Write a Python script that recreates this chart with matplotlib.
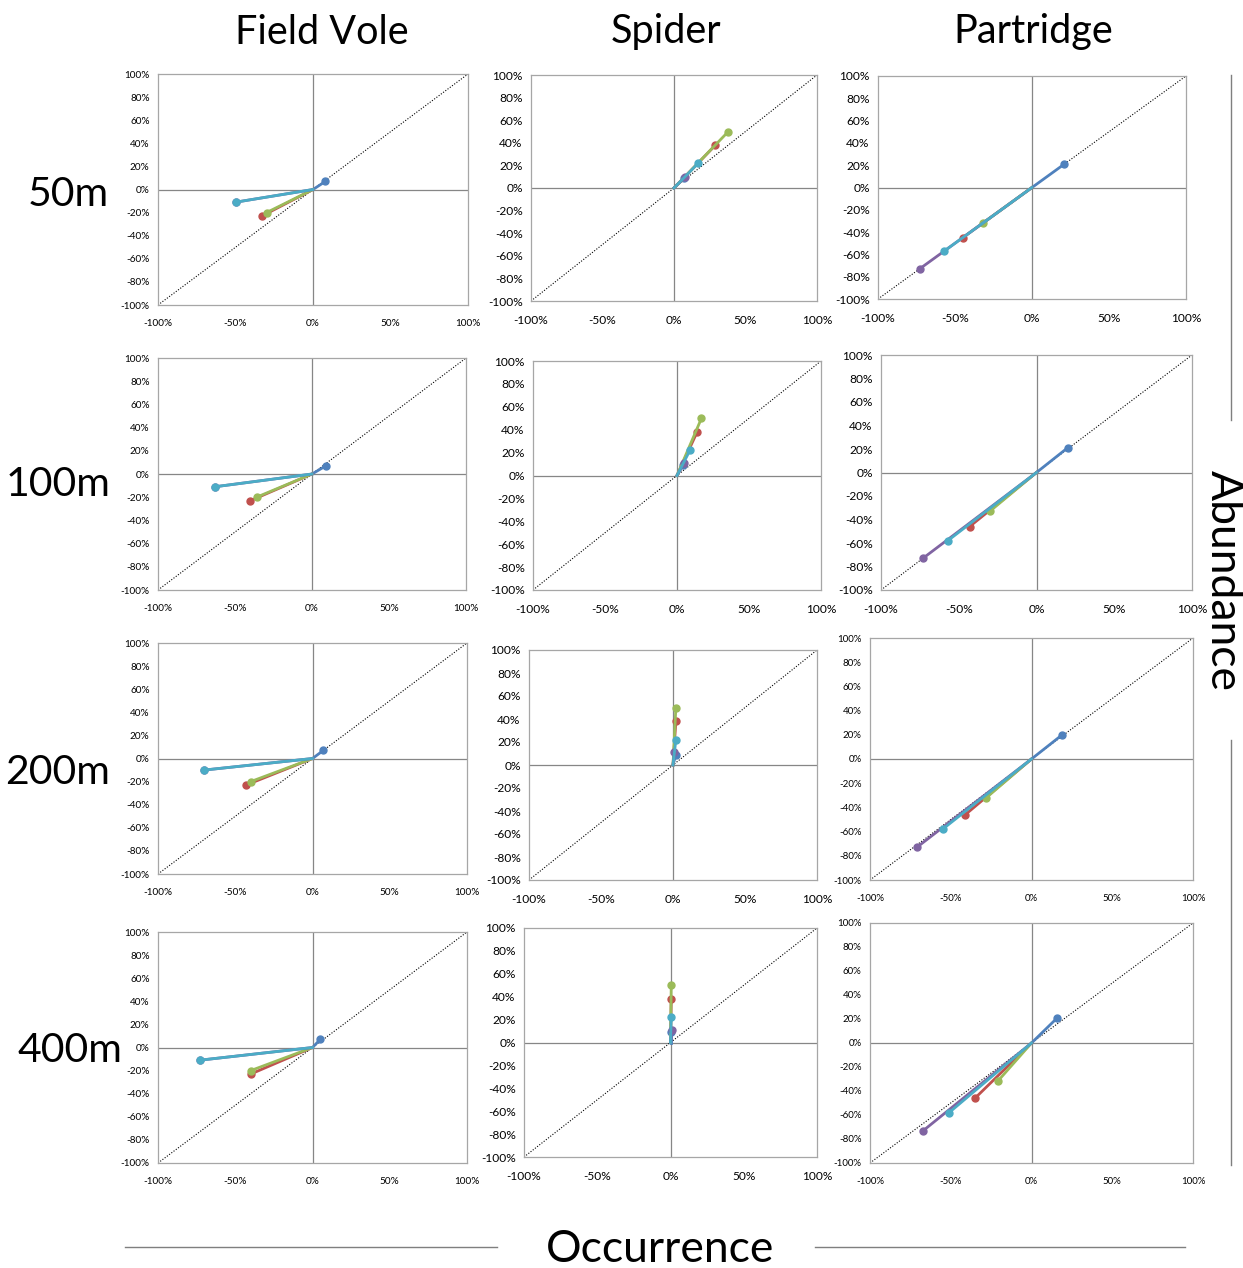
import matplotlib
matplotlib.use("Agg")
import matplotlib.pyplot as plt
from matplotlib.ticker import FuncFormatter

plt.rcParams['font.family'] = ['Lato', 'DejaVu Sans']

species = ["Field Vole", "Spider", "Partridge"]
distances = ["50m", "100m", "200m", "400m"]
series_names = ["blue", "red", "green", "purple", "teal"]
colors = ["#4F81BD", "#C0504D", "#9BBB59", "#8064A2", "#4BACC6"]

# end points (occurrence %, abundance %) for each series, every line starts at 0,0
# order: blue, red, green, purple, teal
vole_occ = [[8, -33, -30, -50, -50], [9, -40, -36, -63, -63], [7, -43, -40, -70, -70], [5, -40, -40, -73, -73]]
vole_abu = [[7, -23, -20, -11, -11], [7, -23, -20, -11, -11], [7, -23, -20, -10, -10], [7, -23, -20, -11, -11]]

spider_occ = [[7, 29, 38, 8, 17], [4, 14, 17, 5, 9], [2, 2, 2, 1, 2], [0, 0.5, 0.5, 1, 0.5]]
spider_abu = [[9, 38, 50, 10, 22], [9, 38, 50, 11, 22], [9, 38, 50, 11, 22], [9, 38, 50, 11, 22]]

partridge_occ = [[21, -45, -32, -73, -57], [20, -43, -30, -73, -57], [19, -41, -28, -71, -55], [16, -35, -21, -67, -51]]
partridge_abu = [[21, -45, -32, -73, -57], [21, -46, -33, -73, -58], [20, -46, -32, -73, -58], [21, -46, -32, -73, -58]]

occ_data = [vole_occ, spider_occ, partridge_occ]
abu_data = [vole_abu, spider_abu, partridge_abu]

W, H = 1243, 1268
fig = plt.figure(figsize=(W / 100, H / 100), dpi=100)

# plot areas in pixels: left, top, right, bottom
boxes = [
    [(158, 74, 468, 305), (531, 75, 817, 301), (878, 76, 1186, 299)],
    [(158, 358, 466, 590), (533, 361, 821, 590), (881, 355, 1192, 590)],
    [(158, 643, 467, 874), (529, 650, 817, 880), (870, 638, 1193, 880)],
    [(158, 932, 467, 1163), (524, 928, 817, 1157), (870, 923, 1193, 1163)],
]
tick_sizes = [
    [7.2, 8.6, 8.6],
    [7.2, 8.6, 8.6],
    [7.2, 8.6, 7.0],
    [7.2, 8.6, 7.0],
]

pct = FuncFormatter(lambda v, p: "%d%%" % round(v))

for r in range(4):
    for c in range(3):
        l, t, rr, b = boxes[r][c]
        ax = fig.add_axes([l / W, 1 - b / H, (rr - l) / W, (b - t) / H])
        ax.set_xlim(-100, 100)
        ax.set_ylim(-100, 100)
        ax.axhline(0, color="#868686", lw=0.9, zorder=1)
        ax.axvline(0, color="#868686", lw=0.9, zorder=1)
        ax.plot([-100, 100], [-100, 100], color="black", lw=0.8, ls=(0, (1, 1.5)), zorder=2)
        xs = occ_data[c][r]
        ys = abu_data[c][r]
        for k in range(len(series_names)):
            ax.plot([0, xs[k]], [0, ys[k]], color=colors[k], lw=2, marker="o",
                    markersize=5, markevery=[1], zorder=3 + k)
        ax.set_xticks([-100, -50, 0, 50, 100])
        ax.set_yticks(range(-100, 101, 20))
        ax.xaxis.set_major_formatter(pct)
        ax.yaxis.set_major_formatter(pct)
        ax.tick_params(length=0, labelsize=tick_sizes[r][c], colors="black")
        ax.tick_params(axis="x", pad=10)
        ax.tick_params(axis="y", pad=6)
        for s in ax.spines.values():
            s.set_color("#A6A6A6")
            s.set_linewidth(0.9)

# column titles
for x, name in zip([322, 666, 1033], species):
    fig.text(x / W, 1 - 32 / H, name, ha="center", va="center", fontsize=28.5)

# row labels
for (x, y), name in zip([(68, 195), (58, 484), (58, 772), (70, 1050)], distances):
    fig.text(x / W, 1 - y / H, name, ha="center", va="center", fontsize=29.5)

fig.text(1223 / W, 1 - 580 / H, "Abundance", ha="center", va="center", fontsize=32, rotation=-90)
fig.text(660 / W, 1 - 1250 / H, "Occurrence", ha="center", va="center", fontsize=32)

# decorative rules beside the axis titles
fig.add_artist(plt.Line2D([125 / W, 497 / W], [1 - 1247 / H] * 2, color="#7F7F7F", lw=1))
fig.add_artist(plt.Line2D([815 / W, 1185 / W], [1 - 1247 / H] * 2, color="#7F7F7F", lw=1))
fig.add_artist(plt.Line2D([1231 / W] * 2, [1 - 75 / H, 1 - 420 / H], color="#7F7F7F", lw=1))
fig.add_artist(plt.Line2D([1231 / W] * 2, [1 - 740 / H, 1 - 1165 / H], color="#7F7F7F", lw=1))

fig.savefig("out.png", dpi=100)
